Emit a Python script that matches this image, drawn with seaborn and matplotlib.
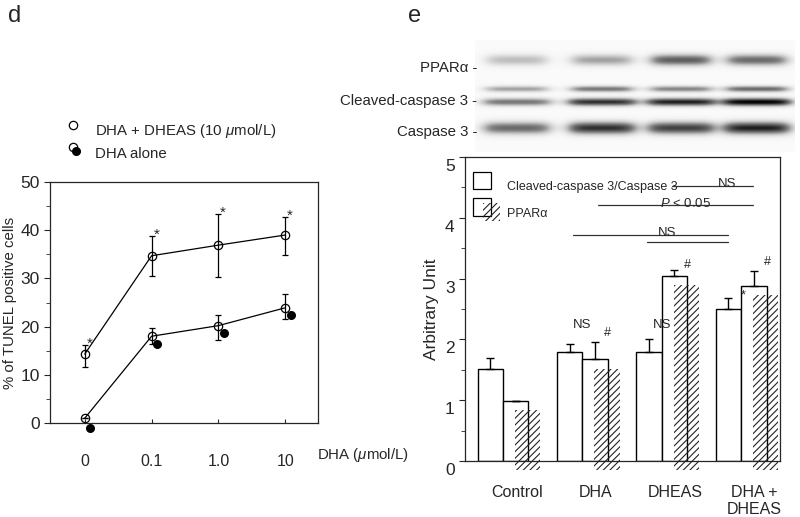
import numpy as np
import matplotlib
matplotlib.use("Agg")
import matplotlib.pyplot as plt
import matplotlib.transforms as mtransforms
from matplotlib.patches import Rectangle
import pandas as pd
import seaborn as sns

# ---- panel d: TUNEL positive cells
doses = ["0", "0.1", "1.0", "10"]
combo_mean = [14.3, 34.7, 36.9, 39.0]
combo_upper = [16.2, 38.8, 43.4, 42.7]
combo_lower = [11.7, 30.5, 30.3, 34.9]
alone_mean = [1.0, 18.0, 20.2, 23.9]
alone_upper = [1.0, 19.7, 22.5, 26.8]
alone_lower = [1.0, 16.3, 17.3, 21.6]
alone_dots = [-1.0, 16.4, 18.7, 22.4]

# ---- panel e: western blot quantification
groups = ["Control", "DHA", "DHEAS", "DHA +\nDHEAS"]
cleaved_ratio = [1.51, 1.79, 1.79, 2.50]
cleaved_top = [1.69, 1.92, 2.00, 2.68]
ppar = [0.99, 1.67, 3.04, 2.88]
ppar_top = [0.99, 1.95, 3.14, 3.12]

# significance marks above bars: (x in group units, y, text)
mark_x = [1.0, 1.32, 2.0, 2.32, 3.03, 3.33]
mark_y = [2.23, 2.10, 2.23, 3.22, 2.72, 3.28]
mark_text = ["NS", "#", "NS", "#", "*", "#"]

# comparison lines
cmp_x0 = [2.13, 1.19, 0.88, 1.82]
cmp_x1 = [3.15, 3.15, 2.84, 2.84]
cmp_y = [4.52, 4.21, 3.72, 3.61]
cmp_label = ["NS", "$P$ < 0.05", "NS", ""]
cmp_label_x = [2.82, 2.30, 2.07, 0]

# blot band intensities per lane
band_ppar = [0.35, 0.45, 0.70, 0.65]
band_cleaved_up = [0.45, 0.60, 0.55, 0.65]
band_cleaved_low = [0.60, 0.85, 0.90, 1.00]
band_casp3 = [0.65, 0.85, 0.80, 0.90]

sns.set_style("ticks")
plt.rcParams["font.family"] = ["Liberation Sans", "DejaVu Sans"]
plt.rcParams["mathtext.fontset"] = "custom"
plt.rcParams["mathtext.rm"] = "Liberation Sans"
plt.rcParams["mathtext.it"] = "Liberation Sans:italic"
plt.rcParams["hatch.linewidth"] = 0.8
plt.rcParams["axes.linewidth"] = 0.9

W, H = 800, 517
fig = plt.figure(figsize=(8, 5.17), dpi=100)

def fax(x0, y0, x1, y1):
    return [x0 / W, 1 - y1 / H, (x1 - x0) / W, (y1 - y0) / H]

# ---------------- panel d
ax = fig.add_axes(fax(50, 182, 318, 423))
xs = np.arange(len(doses))
d = pd.DataFrame({"x": np.concatenate([xs, xs]),
                  "y": combo_mean + alone_mean,
                  "grp": ["combo"] * 4 + ["alone"] * 4})
sns.lineplot(data=d, x="x", y="y", units="grp", estimator=None, color="black",
             lw=0.9, marker="o", markersize=6, markerfacecolor="none",
             markeredgecolor="black", markeredgewidth=0.9, ax=ax, zorder=3)
for m, up, lo in [(combo_mean, combo_upper, combo_lower), (alone_mean, alone_upper, alone_lower)]:
    m, up, lo = np.array(m), np.array(up), np.array(lo)
    ax.errorbar(xs, m, yerr=[m - lo, up - m], fmt="none", ecolor="black",
                elinewidth=0.9, capsize=2.5, capthick=0.9, zorder=2)
ax.scatter(xs + 0.08, alone_dots, s=30, color="black", zorder=4, clip_on=False)
for x, up in zip(xs, combo_upper):
    ax.text(x + 0.07, up + 0.2, "*", fontsize=11, ha="center", va="center")
ax.set_xlim(-0.52, 3.49)
ax.set_ylim(0, 50)
ax.set_yticks([0, 10, 20, 30, 40, 50])
ax.set_yticks([5, 15, 25, 35, 45], minor=True)
ax.set_xticks(xs, doses)
ax.tick_params(axis="x", direction="in", length=3, pad=22, labelsize=11.5)
ax.tick_params(axis="y", which="major", length=4, labelsize=12.5)
ax.tick_params(axis="y", which="minor", length=3)
ax.set_xlabel("")
ax.set_ylabel("% of TUNEL positive cells", fontsize=10.8, labelpad=2)

# ---------------- panel e bars
bx = fig.add_axes(fax(465, 157, 780, 461))
df = pd.DataFrame({"group": groups * 2,
                   "measure": ["cleaved"] * 4 + ["ppar"] * 4,
                   "value": cleaved_ratio + ppar})
sns.barplot(data=df, x="group", y="value", hue="measure", order=groups,
            palette=["white", "white"], edgecolor="black", linewidth=1,
            width=0.64, errorbar=None, legend=False, saturation=1, ax=bx)
gx = np.arange(len(groups))
bx.bar(gx + 0.16 + 0.15, ppar, width=0.32, bottom=-0.15, fill=False,
       hatch="/////", edgecolor="#222222", linewidth=0, clip_on=False, zorder=3)
for off, h, top in [(-0.16, cleaved_ratio, cleaved_top), (0.16, ppar, ppar_top)]:
    h, top = np.array(h), np.array(top)
    bx.errorbar(gx + off, h, yerr=[np.zeros_like(h), top - h], fmt="none",
                ecolor="black", elinewidth=1, capsize=3, capthick=1, zorder=4)
for x, y, t in zip(mark_x, mark_y, mark_text):
    bx.text(x, y, t, ha="center", va="center", fontsize=9.5 if t == "NS" else 9)
for x0, x1, y, lab, lx in zip(cmp_x0, cmp_x1, cmp_y, cmp_label, cmp_label_x):
    bx.plot([x0, x1], [y, y], color="#333333", lw=0.9)
    if lab:
        bx.text(lx, y + 0.03, lab, ha="center", va="center", fontsize=9.5)
bx.set_xlim(-0.48, 3.49)
bx.set_ylim(0, 4.95)
bx.set_yticks([0, 1, 2, 3, 4, 5])
bx.set_yticks(np.arange(0.5, 5, 1), minor=True)
bx.set_xticks(gx + 0.17, groups)
bx.tick_params(axis="x", length=0, pad=17, labelsize=11.5)
bx.tick_params(axis="y", which="major", length=4, labelsize=12.5)
bx.tick_params(axis="y", which="minor", length=3)
shift = mtransforms.ScaledTranslation(0, -8 / 100, fig.dpi_scale_trans)
for lab in bx.get_yticklabels():
    lab.set_transform(lab.get_transform() + shift)
bx.set_xlabel("")
bx.set_ylabel("Arbitrary Unit", fontsize=12.5, labelpad=4)

# ---------------- blot image
blot = fig.add_axes(fax(475, 40, 795, 152))
bxs = np.arange(475, 795) + 0.5
bys = np.arange(40, 152) + 0.5
XX, YY = np.meshgrid(bxs, bys)
img = np.full(XX.shape, 0.04)
lanes = [517, 602, 681, 757]
rows = [(band_ppar, 60, 4.2, 30), (band_cleaved_up, 89, 2.3, 31),
        (band_cleaved_low, 102, 2.9, 34), (band_casp3, 128, 4.6, 33)]
for vals, yc, sy, hw in rows:
    for lx, v in zip(lanes, vals):
        prof_x = 1 / (1 + np.exp((np.abs(XX - lx) - hw) / 4.5))
        prof_y = np.exp(-0.5 * ((YY - yc) / sy) ** 2)
        img += v * prof_x * prof_y
blot.imshow(img, cmap="Greys", vmin=0, vmax=1.05, extent=(475, 795, 152, 40),
            interpolation="bilinear", aspect="auto")
blot.axis("off")

# ---------------- overlay for labels and legends
ov = fig.add_axes([0, 0, 1, 1])
ov.set_xlim(0, W)
ov.set_ylim(H, 0)
ov.axis("off")
ov.patch.set_alpha(0)

ov.text(15, 16, "d", fontsize=17, ha="center", va="center")
ov.text(415, 16, "e", fontsize=17, ha="center", va="center")

# legend panel d
ov.plot([73], [125], marker="o", ms=6, mfc="none", mec="black", mew=0.9)
ov.text(95, 131, "DHA + DHEAS (10 $\\mathit{\\mu}$mol/L)", fontsize=10.8, va="center")
ov.plot([73], [147], marker="o", ms=6, mfc="none", mec="black", mew=0.9)
ov.plot([76], [151], marker="o", ms=5.5, color="black")
ov.text(95, 154, "DHA alone", fontsize=10.8, va="center")
ov.text(317, 455, "DHA ($\\mathit{\\mu}$mol/L)", fontsize=10.8, va="center")

# blot labels
ov.text(477, 68, "PPAR\u03b1 -", fontsize=10.8, ha="right", va="center")
ov.text(477, 101, "Cleaved-caspase 3 -", fontsize=10.8, ha="right", va="center")
ov.text(477, 132, "Caspase 3 -", fontsize=10.8, ha="right", va="center")

# legend panel e
ov.add_patch(Rectangle((473, 172), 18, 17, facecolor="white", edgecolor="black", lw=0.9))
ov.text(507, 187, "Cleaved-caspase 3/Caspase 3", fontsize=9, va="center")
ov.add_patch(Rectangle((473, 198), 18, 18, facecolor="white", edgecolor="black", lw=0.9))
ov.add_patch(Rectangle((483, 203), 17, 18, fill=False, hatch="/////", edgecolor="#222222", lw=0))
ov.text(507, 214, "PPAR\u03b1", fontsize=9, va="center")

fig.savefig("out.png", dpi=100)
